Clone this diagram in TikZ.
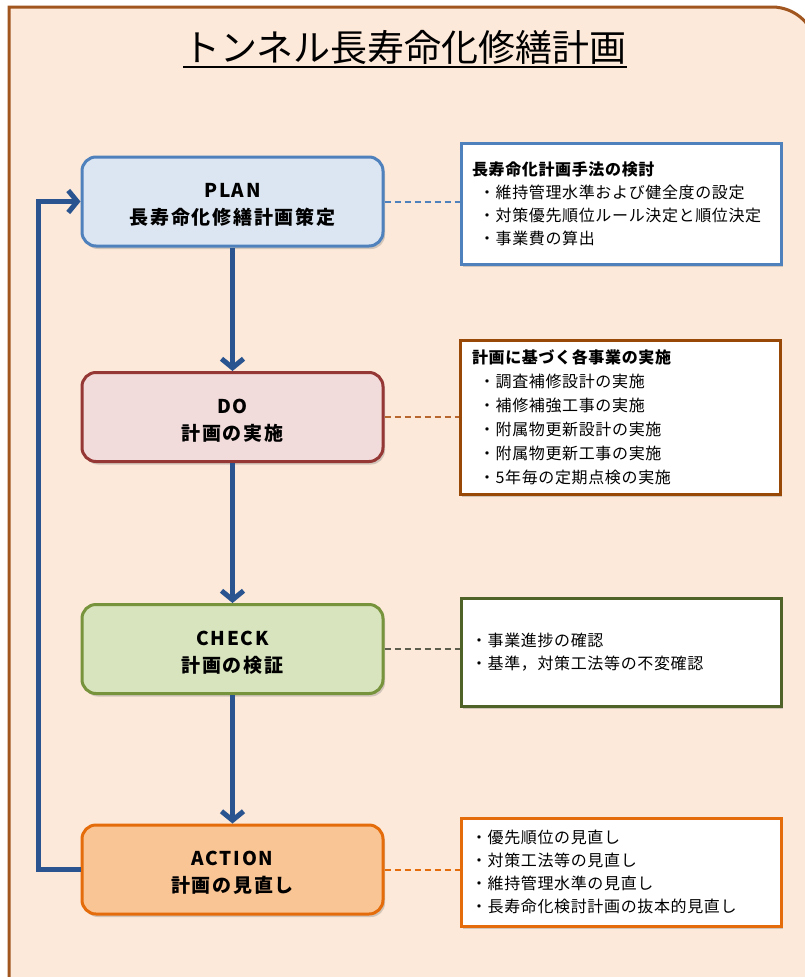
\documentclass[tikz,border=0pt]{standalone}
\usepackage{fontspec}
\setmainfont{Noto Sans CJK JP}
\usetikzlibrary{arrows.meta,shadows}
\definecolor{bgc}{HTML}{FDE9D9}
\definecolor{framec}{HTML}{A0561E}
\definecolor{planfill}{HTML}{DCE6F2}
\definecolor{planline}{HTML}{4F81BD}
\definecolor{dofill}{HTML}{F2DCDB}
\definecolor{doline}{HTML}{953735}
\definecolor{checkfill}{HTML}{D7E4BD}
\definecolor{checkline}{HTML}{77933C}
\definecolor{actfill}{HTML}{FAC594}
\definecolor{actline}{HTML}{E46C0A}
\definecolor{arrowc}{HTML}{2A5490}
\definecolor{rtwoline}{HTML}{984807}
\definecolor{rthreeline}{HTML}{4F6228}
\definecolor{dashtwo}{HTML}{B8682E}
\definecolor{dashthree}{HTML}{5E5E4E}
\tikzset{
  phase/.style={draw, line width=3pt, rounded corners=14pt,
    minimum width=301pt, minimum height=89pt, align=center, inner sep=0pt,
    font=\bfseries\fontsize{19}{27}\selectfont\addfontfeature{LetterSpace=9},
    drop shadow={opacity=0.35, shadow xshift=2pt, shadow yshift=-3pt}},
  notebox/.style={draw, fill=white, line width=3pt, minimum width=320pt,
    align=left, inner xsep=11pt, inner ysep=0pt,
    font=\fontsize{16}{23}\selectfont\addfontfeature{LetterSpace=4},
    drop shadow={opacity=0.35, shadow xshift=2pt, shadow yshift=-3pt}},
  flow/.style={arrowc, line width=5pt, -{Straight Barb[length=9pt,width=22pt]}},
  link/.style={line width=2pt, dash pattern=on 6pt off 4pt}
}
\newcommand{\firstline}{\rule{0pt}{21pt}}
\begin{document}
\begin{tikzpicture}[x=1pt,y=-1pt]
\useasboundingbox (0,0) rectangle (804,977);
\fill[white] (0,0) rectangle (804,977);
% outer frame
\filldraw[draw=framec, fill=bgc, line width=3pt]
  (9,1000) -- (9,7) -- (772,7) .. controls (796,7) and (816,26) .. (816,50) -- (816,1000) -- cycle;
% title
\node[inner sep=0pt, font=\fontsize{37}{37}\selectfont] (title) at (405,47) {トンネル長寿命化修繕計画};
\draw[line width=1.8pt] ([yshift=-6pt]title.base west) -- ([yshift=-6pt]title.base east);
% phases
\node[phase, fill=planfill, draw=planline] (plan) at (232.5,201.5) {\firstline PLAN\\長寿命化修繕計画策定};
\node[phase, fill=dofill, draw=doline] (do) at (232.5,417) {\firstline DO\\計画の実施};
\node[phase, fill=checkfill, draw=checkline] (check) at (232.5,649) {\firstline CHECK\\計画の検証};
\node[phase, fill=actfill, draw=actline] (action) at (232.5,869.5) {\firstline ACTION\\計画の見直し};
% notes
\node[notebox, draw=planline, minimum height=121pt, text width=298pt] (r1) at (621,203.5)
  {{\bfseries 長寿命化計画手法の検討}\\
   \hspace*{7pt}・維持管理水準および健全度の設定\\
   \hspace*{7pt}・対策優先順位ルール決定と順位決定\\
   \hspace*{7pt}・事業費の算出};
\node[notebox, draw=rtwoline, minimum height=154pt, text width=296pt,
      font=\fontsize{16}{24}\selectfont\addfontfeature{LetterSpace=4}] (r2) at (620,417)
  {{\bfseries 計画に基づく各事業の実施}\\
   \hspace*{7pt}・調査補修設計の実施\\
   \hspace*{7pt}・補修補強工事の実施\\
   \hspace*{7pt}・附属物更新設計の実施\\
   \hspace*{7pt}・附属物更新工事の実施\\
   \hspace*{7pt}・5年毎の定期点検の実施};
\node[notebox, draw=rthreeline, minimum height=108pt, text width=300pt, inner xsep=10pt] (r3) at (621,652)
  {・事業進捗の確認\\・基準，対策工法等の不変確認};
\node[notebox, draw=actline, minimum height=108pt, text width=300pt, inner xsep=10pt] (r4) at (621,872)
  {・優先順位の見直し\\・対策工法等の見直し\\・維持管理水準の見直し\\・長寿命化検討計画の抜本的見直し};
% dashed links
\draw[link, planline] (plan.east) -- (plan.east -| r1.west);
\draw[link, dashtwo] (do.east) -- (do.east -| r2.west);
\draw[link, dashthree] (check.east) -- (check.east -| r3.west);
\draw[link, actline] (action.east) -- (action.east -| r4.west);
% flow arrows
\draw[flow] (plan) -- (do);
\draw[flow] (do) -- (check);
\draw[flow] (check) -- (action);
\coordinate (fb) at (38,869.5);
\draw[flow, line join=miter] (action.west) -- (fb) |- (plan.west);
\end{tikzpicture}
\end{document}
